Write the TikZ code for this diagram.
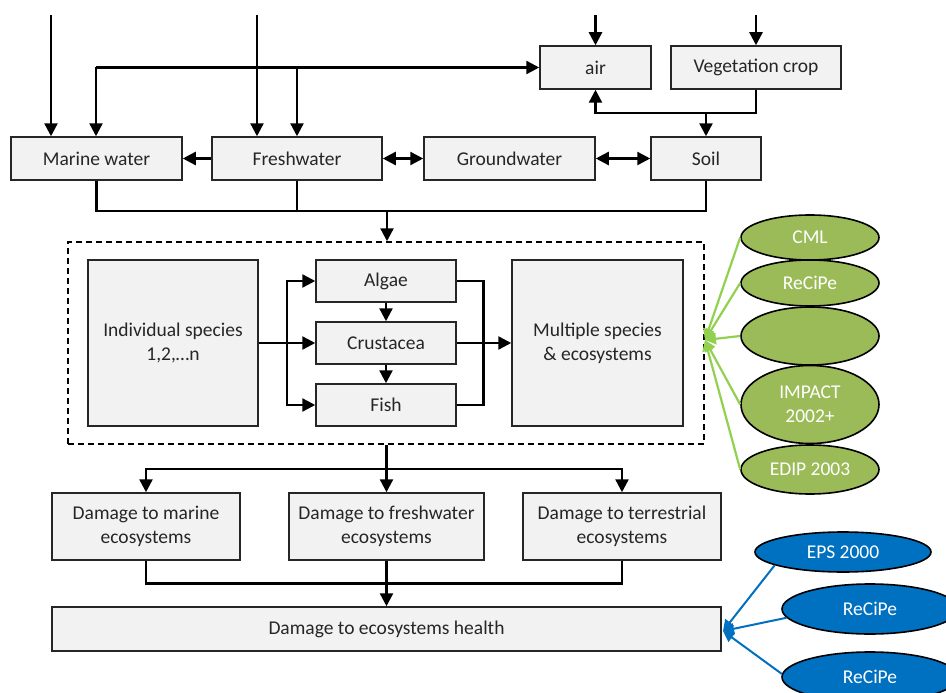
\documentclass[tikz,border=0pt]{standalone}
\usepackage{fontspec}
\setmainfont{Carlito}
\usetikzlibrary{arrows.meta,shapes.geometric}
\definecolor{boxfill}{HTML}{F2F2F2}
\definecolor{gfill}{HTML}{9BBB59}
\definecolor{gline}{HTML}{92D050}
\definecolor{bfill}{HTML}{0070C0}
\begin{document}
\begin{tikzpicture}[x=1pt,y=-1pt,
  every node/.style={font=\fontsize{19.5}{24}\selectfont, text=black!85, align=center, inner sep=0pt},
  bx/.style={draw=black!85, line width=1.5pt, fill=boxfill, rectangle},
  conn/.style={line width=2.4pt, black},
  arr/.style={conn, -{Triangle[length=13pt,width=13pt]}},
  arrtwo/.style={conn, {Triangle[length=13pt,width=13pt]}-{Triangle[length=13pt,width=13pt]}},
  gell/.style={ellipse, draw=black, line width=1.6pt, fill=gfill, text=white, minimum width=138pt},
  bell/.style={ellipse, draw=black, line width=1.6pt, fill=bfill, text=white, minimum width=176pt},
  garr/.style={draw=gline, line width=2.2pt, -{Triangle[length=11pt,width=11pt]}},
  barr/.style={draw=bfill, line width=2pt, -{Triangle[length=11pt,width=11pt]}}
]
\useasboundingbox (0,0) rectangle (946,693);

% top boxes
\node[bx, minimum width=111pt, minimum height=43pt] (air) at (595.5,67.5) {air};
\node[bx, minimum width=170pt, minimum height=43pt] (veg) at (756,67.5) {Vegetation crop};
\node[bx, minimum width=171pt, minimum height=43pt] (marine) at (96.5,158.5) {Marine water};
\node[bx, minimum width=170pt, minimum height=43pt] (fresh) at (297,158.5) {Freshwater};
\node[bx, minimum width=171pt, minimum height=43pt] (ground) at (509.5,158.5) {Groundwater};
\node[bx, minimum width=110pt, minimum height=43pt] (soil) at (706,158.5) {Soil};

% incoming arrows from top
\coordinate (t1) at (51,15);
\coordinate (t2) at (257,15);
\coordinate (t3) at (595.5,15);
\coordinate (t4) at (756,15);
\draw[arr] (t1) -- (t1 |- marine.north);
\draw[arr] (t2) -- (t2 |- fresh.north);
\draw[arr] (t3) -- (air.north);
\draw[arr] (t4) -- (veg.north);

% distribution line to air
\coordinate (j1) at (96,67.5);
\coordinate (j2) at (297,67.5);
\draw[arr] (j1) -- (air.west);
\draw[arr] (j1) -- (j1 |- marine.north);
\draw[arr] (j2) -- (fresh.north);

% vegetation to air and soil
\coordinate (j3) at (706,113);
\draw[arr] (veg.south) |- (j3) -| (air.south);
\draw[arr] (j3) -- (soil.north);

% horizontal links
\draw[arr] (fresh.west) -- (marine.east);
\draw[arrtwo] (fresh.east) -- (ground.west);
\draw[arrtwo] (ground.east) -- (soil.west);

% dashed container
\node[draw=black, line width=1.5pt, dash pattern=on 6pt off 4pt, minimum width=636pt, minimum height=202pt] (dash) at (386,343) {};

% merge into dashed box
\coordinate (m1) at (96.5,211);
\coordinate (j4) at (387,211);
\draw[conn] (marine.south) -- (m1) -- (m1 -| soil.south) -- (soil.south);
\draw[conn] (fresh.south) -- (fresh.south |- m1);
\draw[arr] (j4) -- (j4 |- dash.north);

% inner boxes
\node[bx, minimum width=170pt, minimum height=166pt] (indiv) at (173,343) {Individual species\\1,2,\ldots n};
\node[bx, minimum width=140pt, minimum height=42pt] (algae) at (386,281) {Algae};
\node[bx, minimum width=140pt, minimum height=42pt] (crust) at (386,343) {Crustacea};
\node[bx, minimum width=140pt, minimum height=42pt] (fish) at (386,405) {Fish};
\node[bx, minimum width=171pt, minimum height=166pt] (multi) at (597.5,343) {Multiple species\\\& ecosystems};

\coordinate (s1) at (287,343);
\coordinate (s2) at (483.5,343);
\draw[arr] (indiv.east) -- (crust.west);
\draw[arr] (s1) |- (algae.west);
\draw[arr] (s1) |- (fish.west);
\draw[arr] (algae.south) -- (crust.north);
\draw[arr] (crust.south) -- (fish.north);
\draw[conn] (algae.east) -| (s2);
\draw[conn] (fish.east) -| (s2);
\draw[arr] (crust.east) -- (multi.west);

% damage boxes
\node[bx, minimum width=188pt, minimum height=67pt] (dmarine) at (146,526.5) {Damage to marine\\ecosystems};
\node[bx, minimum width=195pt, minimum height=67pt] (dfresh) at (386.5,526.5) {Damage to freshwater\\ecosystems};
\node[bx, minimum width=198pt, minimum height=67pt] (dterr) at (622,526.5) {Damage to terrestrial\\ecosystems};
\node[bx, minimum width=669pt, minimum height=44pt] (dhealth) at (386.5,629) {Damage to ecosystems health};

\coordinate (b0) at (386.5,469);
\draw[conn] (b0 |- dash.south) -- (b0);
\draw[arr] (b0) -- (dfresh.north);
\draw[arr] (b0) -| (dmarine.north);
\draw[arr] (b0) -| (dterr.north);

\coordinate (b1) at (386.5,583.5);
\draw[conn] (dmarine.south) |- (b1 -| dterr.south) -- (dterr.south);
\draw[arr] (dfresh.south) -- (dhealth.north);

% green method ellipses
\node[gell, minimum height=45pt] (cml) at (810,237.5) {CML};
\node[gell, minimum height=46pt] (rec1) at (810,283) {ReCiPe};
\node[gell, minimum height=58pt] (emp) at (810,336) {};
\node[gell, minimum height=78pt] (imp) at (810,404.5) {IMPACT\\2002+};
\node[gell, minimum height=49pt] (edip) at (810,469.5) {EDIP 2003};

\coordinate (gt) at (705,340);
\draw[garr] (cml.west) -- (gt);
\draw[garr] (rec1.west) -- (gt);
\draw[garr] (emp.west) -- (gt);
\draw[garr] (imp.west) -- (gt);
\draw[garr] (edip.west) -- (gt);

% blue method ellipses
\node[bell, minimum height=40pt] (eps) at (843,552) {EPS 2000};
\node[bell, minimum height=50pt] (rec2) at (870,609) {ReCiPe};
\node[bell, minimum height=50pt] (rec3) at (870,677) {ReCiPe};

\coordinate (bt) at (723,631);
\draw[barr] (eps.191) -- (bt);
\draw[barr] (rec2.186) -- (bt);
\draw[barr] (rec3.178) -- (bt);
\end{tikzpicture}
\end{document}
